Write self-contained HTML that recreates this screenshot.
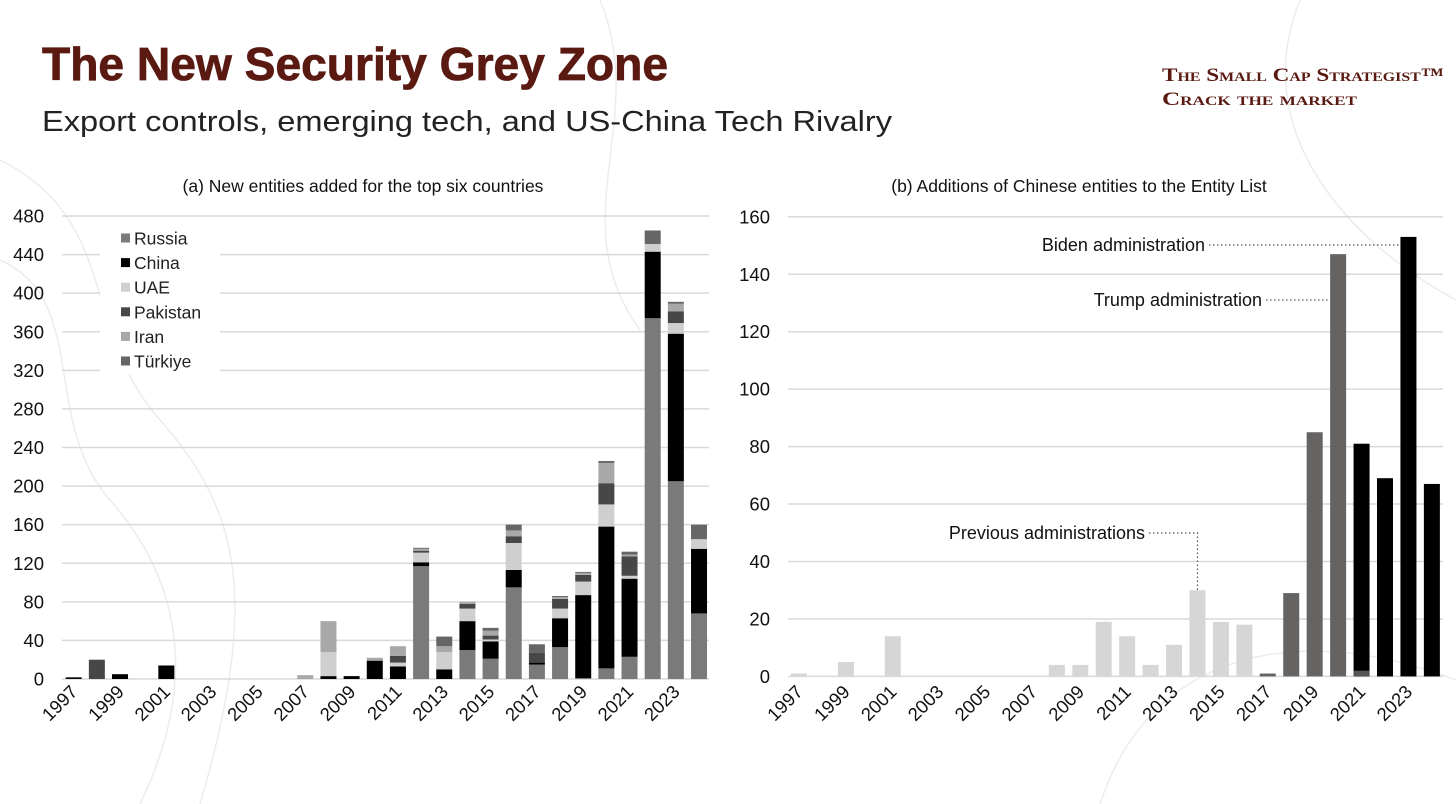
<!DOCTYPE html>
<html><head><meta charset="utf-8"><style>
html,body{margin:0;padding:0;background:#fff;}
svg{display:block;font-family:"Liberation Sans",Arial,sans-serif;}
</style></head>
<body>
<svg id="root" width="1456" height="804" viewBox="0 0 1456 804" xmlns="http://www.w3.org/2000/svg">
<rect width="1456" height="804" fill="#ffffff"/>
<g id="bgcontours" fill="none" stroke="#ececec" stroke-width="1.5">
<path d="M0 160 C120 220 80 330 160 420 S 260 600 200 804"/>
<path d="M0 260 C90 300 40 420 110 500 S 200 680 140 804"/>
<path d="M1300 0 C1240 150 1380 260 1456 300"/>
<path d="M1100 804 C1150 650 1300 620 1456 680"/>
<path d="M600 0 C650 120 560 220 640 330"/>
</g>
<text x="42" y="80" font-size="46" font-weight="bold" fill="#5a1a12" stroke="#5a1a12" stroke-width="0.8" textLength="626" lengthAdjust="spacingAndGlyphs">The New Security Grey Zone</text>
<text x="42" y="131" font-size="29" fill="#222" textLength="850" lengthAdjust="spacingAndGlyphs">Export controls, emerging tech, and US-China Tech Rivalry</text>
<text x="1162" y="81" font-family="Liberation Serif,serif" font-size="19" font-weight="bold" font-variant="small-caps" fill="#5a1a12" textLength="282" lengthAdjust="spacingAndGlyphs">The Small Cap Strategist™</text>
<text x="1162" y="105" font-family="Liberation Serif,serif" font-size="19" font-weight="bold" font-variant="small-caps" fill="#5a1a12" textLength="195" lengthAdjust="spacingAndGlyphs">Crack the market</text>
<text x="363" y="192" font-size="17.5" text-anchor="middle" fill="#111">(a) New entities added for the top six countries</text>
<text x="1079" y="192" font-size="17.5" text-anchor="middle" fill="#111">(b) Additions of Chinese entities to the Entity List</text>
<g id="left"></g>
<g id="right"></g>
</svg>
<script>
const years = [];
for (let y = 1997; y <= 2024; y++) years.push(y);
const seriesNames = ["Russia","China","UAE","Pakistan","Iran","Türkiye"];
const russia   = [0,0,0,0,0,0,0,0,0,0,0,0,0,0,0,117,0,30,21,95,15,33,1,11,23,374,205,68];
const china    = [1,0,5,0,14,0,0,0,0,0,0,3,3,19,13,4,10,30,18,18,2,30,86,147,81,69,153,67];
const uae      = [0,0,0,0,0,0,0,0,0,0,0,25,0,0,4,10,18,13,2,28,0,10,14,23,3,8,11,10];
const pakistan = [1,20,0,0,0,0,0,0,0,0,0,0,0,0,7,2,0,5,4,7,10,10,7,22,20,0,12,0];
const iran     = [0,0,0,0,0,0,0,0,0,0,4,32,0,3,10,2,6,2,5,6,0,2,2,21,2,0,8,0];
const turkiye  = [0,0,0,0,0,0,0,0,0,0,0,0,0,0,0,1,10,0,3,6,9,1,1,2,3,14,2,15];
const leftTicks = [0,40,80,120,160,200,240,280,320,360,400,440,480];
const chineseAdds = [1,0,5,0,14,0,0,0,0,0,0,4,4,19,14,4,11,30,19,18,1,29,85,147,81,69,153,67];
const chineseAddsPrior = [0,0,0,0,0,0,0,0,0,0,0,0,0,0,0,0,0,0,0,0,0,0,0,0,2,0,0,0];
const adminOf = ["p","p","p","p","p","p","p","p","p","p","p","p","p","p","p","p","p","p","p","p","t","t","t","t","b","b","b","b"];
const rightTicks = [0,20,40,60,80,100,120,140,160];

const NS = "http://www.w3.org/2000/svg";
function mk(tag, attrs, parent){const e=document.createElementNS(NS,tag);for(const k in attrs)e.setAttribute(k,attrs[k]);parent.appendChild(e);return e;}
const TF = 18.5;

// Left chart
const L = document.getElementById('left');
const lx = i => 73.7 + i*23.16;
const ly = v => 679 - v*(463/480);
const colors = ["#7a7a7a","#000000","#cfcfcf","#474747","#a8a8a8","#666666"];
const series = [russia,china,uae,pakistan,iran,turkiye];
leftTicks.forEach(t=>{
  const g = mk('line',{x1:62,x2:709,y1:ly(t),y2:ly(t),stroke:'#d9d9d9','stroke-width':1.5},L);
  
  
  const tx = mk('text',{x:44,y:ly(t)+6.5,'font-size':TF,'text-anchor':'end',fill:'#111'},L);
  tx.textContent = t;
  
  
});
const lb = mk('rect',{x:100,y:224,width:120,height:150,fill:'#fff'},L);


years.forEach((yr,i)=>{
  let base = 0;
  series.forEach((s,k)=>{
    const v = s[i];
    if (v>0){
      const r = mk('rect',{x:lx(i)-8,y:ly(base+v),width:16,height:ly(base)-ly(base+v),fill:colors[k]},L);
      
      
    }
    base += v;
  });
  if ((yr-1997)%2===0){
    const t = mk('text',{x:lx(i)+5,y:693,'font-size':TF,'text-anchor':'end',fill:'#111',transform:`rotate(-45 ${lx(i)+5} 693)`},L);
    t.textContent = yr;
    
    
  }
});
seriesNames.forEach((n,k)=>{
  const y = 238 + k*24.6;
  const sw = mk('rect',{x:121,y:y-4.5,width:9,height:9,fill:colors[k]},L);
  
  
  const t = mk('text',{x:134,y:y+6.5,'font-size':17.5,fill:'#222'},L);
  t.textContent = n;
  
  
});

// Right chart
const R = document.getElementById('right');
const rx = i => 799 + i*23.44;
const ry = v => 676.4 - v*(459.6/160);
rightTicks.forEach(t=>{
  const g = mk('line',{x1:788,x2:1443,y1:ry(t),y2:ry(t),stroke:'#d9d9d9','stroke-width':1.5},R);
  
  
  const tx = mk('text',{x:770,y:ry(t)+6.5,'font-size':TF,'text-anchor':'end',fill:'#111'},R);
  tx.textContent = t;
  
  
});
const adminColor = {p:'#d6d6d6',t:'#666363',b:'#000000'};
years.forEach((yr,i)=>{
  const v = chineseAdds[i];
  if (v>0){
    const r = mk('rect',{x:rx(i)-8,y:ry(v),width:16,height:ry(0)-ry(v),fill:adminColor[adminOf[i]]},R);
    
    
  }
  const p = chineseAddsPrior[i];
  if (p>0){
    const r2 = mk('rect',{x:rx(i)-8,y:ry(p),width:16,height:ry(0)-ry(p),fill:'#555'},R);
    
    
  }
  if ((yr-1997)%2===0){
    const t = mk('text',{x:rx(i)+5,y:693,'font-size':TF,'text-anchor':'end',fill:'#111',transform:`rotate(-45 ${rx(i)+5} 693)`},R);
    t.textContent = yr;
    
    
  }
});
function annot(label, tx, ty, pts, name){
  const t = mk('text',{x:tx,y:ty,'font-size':18,'text-anchor':'end',fill:'#111'},R);
  t.textContent = label;
  
  
  const pl = mk('polyline',{points:pts,fill:'none',stroke:'#555','stroke-width':1.2,'stroke-dasharray':'1.5 2.5'},R);
  
  
}
const i2023 = years.indexOf(2023), i2020 = years.indexOf(2020), i2014 = years.indexOf(2014);
annot('Biden administration', 1205, 251, `1209,245 ${rx(i2023)-8},245`, 'biden-annotation');
annot('Trump administration', 1262, 306, `1266,300 ${rx(i2020)-8},300`, 'trump-annotation');
annot('Previous administrations', 1145, 539, `1149,533 ${rx(i2014)},533 ${rx(i2014)},${ry(chineseAdds[i2014])}`, 'previous-annotation');
</script>
</body></html>
